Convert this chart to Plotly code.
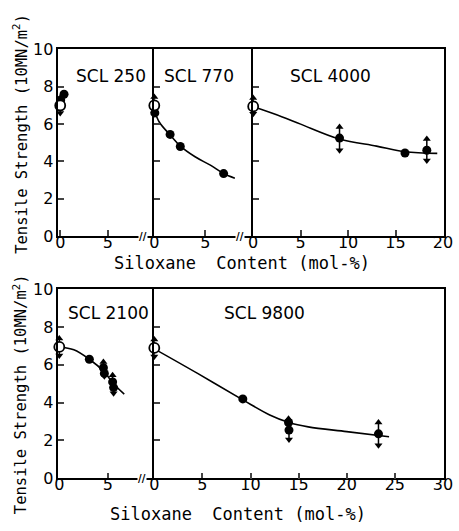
import plotly.graph_objects as go

W, H = 459, 531
FONT = "DejaVu Sans"
MONO = "DejaVu Sans Mono"

# ---------------- data ----------------
panel_names = ["SCL 250", "SCL 770", "SCL 4000", "SCL 2100", "SCL 9800"]

# open circles (reference, 0 mol-%) with error arrows
open_x = [[0.0], [0.0], [0.0], [0.0], [0.0]]
open_y = [[7.0], [7.0], [6.95], [6.95], [6.9]]
open_up = [[0.4], [0.45], [0.45], [0.45], [0.45]]
open_dn = [[0.4], [0.45], [0.4], [0.45], [0.45]]

# filled circles
fill_x = [
    [0.05, 0.4],
    [0.05, 1.55, 2.55, 6.8],
    [9.1, 16.0, 18.3],
    [3.1, 4.55, 4.65, 5.5, 5.6],
    [9.2, 13.95, 14.0, 23.3],
]
fill_y = [
    [7.3, 7.6],
    [6.6, 5.45, 4.8, 3.35],
    [5.25, 4.45, 4.6],
    [6.3, 5.85, 5.55, 5.1, 4.8],
    [4.2, 2.95, 2.55, 2.35],
]
fill_up = [
    [0, 0],
    [0, 0, 0, 0],
    [0.6, 0, 0.6],
    [0, 0.3, 0, 0.35, 0],
    [0, 0.2, 0, 0.6],
]
fill_dn = [
    [0, 0],
    [0, 0, 0, 0],
    [0.65, 0, 0.55],
    [0, 0, 0.15, 0, 0.3],
    [0, 0, 0.5, 0.6],
]

# fitted curves
curve_x = [
    [],
    [0.0, 0.5, 1.5, 2.5, 4.0, 5.5, 6.8, 7.9],
    [0.2, 3.0, 5.0, 9.1, 13.0, 16.0, 19.4],
    [0.0, 1.5, 3.1, 4.6, 5.6, 6.7],
    [0.0, 4.5, 9.2, 12.0, 14.0, 16.0, 20.0, 24.4],
]
curve_y = [
    [],
    [6.75, 6.1, 5.45, 4.85, 4.25, 3.8, 3.35, 3.1],
    [6.9, 6.4, 6.0, 5.2, 4.82, 4.52, 4.43],
    [6.95, 6.8, 6.3, 5.65, 5.0, 4.45],
    [6.85, 5.55, 4.15, 3.35, 2.95, 2.72, 2.47, 2.2],
]

# axis ranges / ticks
x_ranges = [[-0.2, 9.9], [0, 9.7], [0, 20.1], [-0.1, 9.8], [0, 30.1]]
x_ticks = [[0, 5], [0, 5], [0, 5, 10, 15, 20], [0, 5], [0, 5, 10, 15, 20, 25, 30]]
y_ticks = [0, 2, 4, 6, 8, 10]

# ---------------- layout geometry (pixels) ----------------
x_px = [(55, 154), (154, 256), (256, 452.7), (55, 154), (154, 452.7)]
y_px_top = (42, 235.5)
y_px_bot = (290.7, 486.7)
y_px = [y_px_top, y_px_top, y_px_top, y_px_bot, y_px_bot]


def xd(a, b):
    return [a / W, b / W]


def yd(t, b):
    return [(H - b) / H, (H - t) / H]


fig = go.Figure()
layout = dict(
    width=W, height=H, margin=dict(l=0, r=0, t=0, b=0),
    paper_bgcolor="white", plot_bgcolor="white", showlegend=False,
    font=dict(family=FONT, size=15, color="black"),
)

for i in range(5):
    n = "" if i == 0 else str(i + 1)
    xa, ya = "x" + n, "y" + n
    layout["xaxis" + n] = dict(
        domain=xd(*x_px[i]), anchor=ya, range=x_ranges[i],
        tickvals=x_ticks[i], ticks="inside", ticklen=6, tickwidth=1.5,
        showline=True, linecolor="black", linewidth=1.5, mirror=True,
        showgrid=False, zeroline=False, ticklabeloverflow="allow",
        ticklabelstandoff=-9,
        tickfont=dict(family=FONT, size=16, color="black"),
    )
    layout["yaxis" + n] = dict(
        domain=yd(*y_px[i]), anchor=xa, range=[0, 10],
        tickvals=y_ticks, ticks="inside", ticklen=6, tickwidth=1.5,
        showline=True, linecolor="black", linewidth=1.5,
        mirror=(i in (2, 4)),
        showticklabels=(i in (0, 3)), ticklabeloverflow="allow",
        showgrid=False, zeroline=False,
        tickfont=dict(family=FONT, size=16, color="black"),
    )

    # curve
    if curve_x[i]:
        fig.add_trace(go.Scatter(
            x=curve_x[i], y=curve_y[i], xaxis=xa, yaxis=ya, mode="lines",
            line=dict(color="black", width=1.6, shape="spline", smoothing=1.0),
            hoverinfo="skip"))

    # error arrows
    def arrows(xs, ys, ups, dns):
        ux = [x for x, u in zip(xs, ups) if u > 0]
        uy = [y + u for y, u in zip(ys, ups) if u > 0]
        dx = [x for x, d in zip(xs, dns) if d > 0]
        dy = [y - d for y, d in zip(ys, dns) if d > 0]
        fig.add_trace(go.Scatter(
            x=xs, y=ys, xaxis=xa, yaxis=ya, mode="markers",
            marker=dict(size=1, color="rgba(0,0,0,0)"),
            error_y=dict(type="data", symmetric=False, array=ups, arrayminus=dns,
                         color="black", thickness=1.5, width=0),
            hoverinfo="skip"))
        if ux:
            fig.add_trace(go.Scatter(
                x=ux, y=uy, xaxis=xa, yaxis=ya, mode="markers",
                marker=dict(symbol="triangle-up", size=7, color="black"),
                cliponaxis=False, hoverinfo="skip"))
        if dx:
            fig.add_trace(go.Scatter(
                x=dx, y=dy, xaxis=xa, yaxis=ya, mode="markers",
                marker=dict(symbol="triangle-down", size=7, color="black"),
                cliponaxis=False, hoverinfo="skip"))

    arrows(fill_x[i], fill_y[i], fill_up[i], fill_dn[i])
    arrows(open_x[i], open_y[i], open_up[i], open_dn[i])

    fig.add_trace(go.Scatter(
        x=fill_x[i], y=fill_y[i], xaxis=xa, yaxis=ya, mode="markers",
        marker=dict(symbol="circle", size=9, color="black"),
        cliponaxis=False, hoverinfo="skip"))
    fig.add_trace(go.Scatter(
        x=open_x[i], y=open_y[i], xaxis=xa, yaxis=ya, mode="markers",
        marker=dict(symbol="circle", size=10, color="white",
                    line=dict(color="black", width=1.8)),
        cliponaxis=False, hoverinfo="skip"))

fig.update_layout(**layout)


def ann(px, py, text, size, family=FONT, **kw):
    return dict(x=px / W, y=(H - py) / H, xref="paper", yref="paper",
                xanchor="center", yanchor="middle", text=text, showarrow=False,
                font=dict(family=family, size=size, color="black"), **kw)


# panel labels
label_px = [(109, 70), (200, 70), (336, 70), (107, 315), (268, 315)]
anns = [ann(px, py, name, 17) for name, (px, py) in zip(panel_names, label_px)]

# axis titles
ytitle = "Tensile Strength (10MN/m<sup>2</sup>)"
xtitle = "Siloxane  Content (mol-%)"
for cy in (130, 400):
    anns.append(ann(16, cy, ytitle, 15.5, family=MONO, textangle=-90))
for cx, cy in ((244, 263), (240, 524)):
    anns.append(ann(cx, cy, xtitle, 17, family=MONO))

# axis break marks
for bx, by in ((142, 235.5), (242, 235.5), (141, 486.7)):
    anns.append(ann(bx, by, "<b>//</b>", 10, bgcolor="white", borderpad=0))

fig.update_layout(annotations=anns)
fig.write_html("out.html")
